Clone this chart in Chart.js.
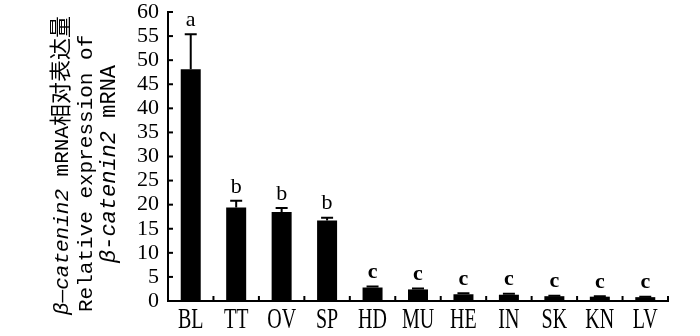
<!DOCTYPE html>
<html>
<head>
<meta charset="utf-8">
<script src="https://cdn.jsdelivr.net/npm/chart.js@4.4.0/dist/chart.umd.min.js"></script>
<style>
  html, body { margin: 0; padding: 0; background: #fff; }
</style>
</head>
<body>
<canvas id="chart" width="700" height="336"></canvas>
<script>
// 組織ごとの相対発現量
const tissues = ['BL', 'TT', 'OV', 'SP', 'HD', 'MU', 'HE', 'IN', 'SK', 'KN', 'LV'];
const means   = [48.1, 19.4, 18.5, 16.7, 2.8, 2.4, 1.4, 1.3, 1.0, 0.9, 0.8];
const errors  = [7.3, 1.4, 0.8, 0.6, 0.2, 0.2, 0.2, 0.2, 0.1, 0.1, 0.1];
const letters = ['a', 'b', 'b', 'b', 'c', 'c', 'c', 'c', 'c', 'c', 'c'];
const yMin = 0, yMax = 60, yStep = 5;

const SERIF = '"Liberation Serif", "DejaVu Serif", serif';
const MONO = '"Liberation Mono", "DejaVu Sans Mono", monospace';
const CJK = '"Noto Sans CJK SC", sans-serif';

// 縦軸タイトル (3行)
const titleLines = [
  { x: 68, y: 315, parts: [['β', 'italic 21px ' + MONO], ['—', '21px ' + MONO], ['catenin2', 'italic 21px ' + MONO], [' mRNA', '21px ' + MONO], ['相对表达量', '22px ' + CJK]] },
  { x: 92, y: 312, parts: [['Relative expression of', '21px ' + MONO]] },
  { x: 115, y: 263, parts: [['β', 'italic 22px ' + MONO], ['-', '22px ' + MONO], ['catenin2', 'italic 22px ' + MONO], [' mRNA', '22px ' + MONO]] }
];

const extras = {
  id: 'extras',
  afterDatasetsDraw(chart) {
    const ctx = chart.ctx;
    const xs = chart.scales.x, ys = chart.scales.y;
    const area = chart.chartArea;
    const meta = chart.getDatasetMeta(0);
    ctx.save();
    ctx.strokeStyle = '#000';
    ctx.fillStyle = '#000';
    ctx.lineWidth = 2;

    // エラーバーと有意差記号
    meta.data.forEach((bar, i) => {
      const yBar = ys.getPixelForValue(means[i]);
      const yTop = ys.getPixelForValue(means[i] + errors[i]);
      ctx.beginPath();
      ctx.moveTo(bar.x, yBar);
      ctx.lineTo(bar.x, yTop);
      ctx.moveTo(bar.x - 6, yTop);
      ctx.lineTo(bar.x + 6, yTop);
      ctx.stroke();

      ctx.font = (letters[i] === 'c' ? 'bold ' : '') + '22px ' + SERIF;
      ctx.textAlign = 'center';
      ctx.textBaseline = 'middle';
      ctx.fillText(letters[i], bar.x, yTop - 14);
    });

    // y軸の内向き目盛
    for (let v = yMin; v <= yMax; v += yStep) {
      const y = ys.getPixelForValue(v);
      ctx.beginPath();
      ctx.moveTo(area.left, y);
      ctx.lineTo(area.left + 5, y);
      ctx.stroke();
    }

    // x軸の区切り目盛
    const half = (xs.getPixelForValue(1) - xs.getPixelForValue(0)) / 2;
    for (let i = 0; i < tissues.length; i++) {
      const x = xs.getPixelForValue(i) + half;
      ctx.beginPath();
      ctx.moveTo(x, area.bottom);
      ctx.lineTo(x, area.bottom - 5);
      ctx.stroke();
    }

    // x軸ラベル (縦長の書体に寄せる)
    ctx.font = '20px ' + SERIF;
    ctx.textAlign = 'center';
    ctx.textBaseline = 'alphabetic';
    tissues.forEach((t, i) => {
      const x = xs.getPixelForValue(i);
      ctx.save();
      ctx.translate(x, area.bottom + 27);
      ctx.scale(1, 1.45);
      ctx.fillText(t, 0, 0);
      ctx.restore();
    });

    // 縦軸タイトル
    ctx.textAlign = 'left';
    ctx.textBaseline = 'alphabetic';
    titleLines.forEach(line => {
      ctx.save();
      ctx.translate(line.x, line.y);
      ctx.rotate(-Math.PI / 2);
      let pos = 0;
      line.parts.forEach(([txt, font]) => {
        ctx.font = font;
        ctx.fillText(txt, pos, 0);
        pos += ctx.measureText(txt).width;
      });
      ctx.restore();
    });

    ctx.restore();
  }
};

new Chart(document.getElementById('chart'), {
  type: 'bar',
  data: {
    labels: tissues,
    datasets: [{
      data: means,
      backgroundColor: '#000',
      borderWidth: 0,
      barPercentage: 0.44,
      categoryPercentage: 1
    }]
  },
  options: {
    responsive: false,
    animation: false,
    layout: { padding: { top: 12, right: 32, left: 0, bottom: 0 } },
    plugins: { legend: { display: false }, tooltip: { enabled: false } },
    scales: {
      x: {
        grid: { display: false },
        border: { color: '#000', width: 2 },
        ticks: { display: false },
        afterFit: s => { s.height = 35; }
      },
      y: {
        min: yMin,
        max: yMax,
        grid: { display: false, drawTicks: false },
        border: { color: '#000', width: 2 },
        ticks: { stepSize: yStep, autoSkip: false, color: '#000', padding: 9, font: { family: SERIF, size: 22 } },
        afterFit: s => { s.width = 168; s.paddingTop = 0; s.paddingBottom = 0; }
      }
    }
  },
  plugins: [extras]
});
</script>
</body>
</html>
